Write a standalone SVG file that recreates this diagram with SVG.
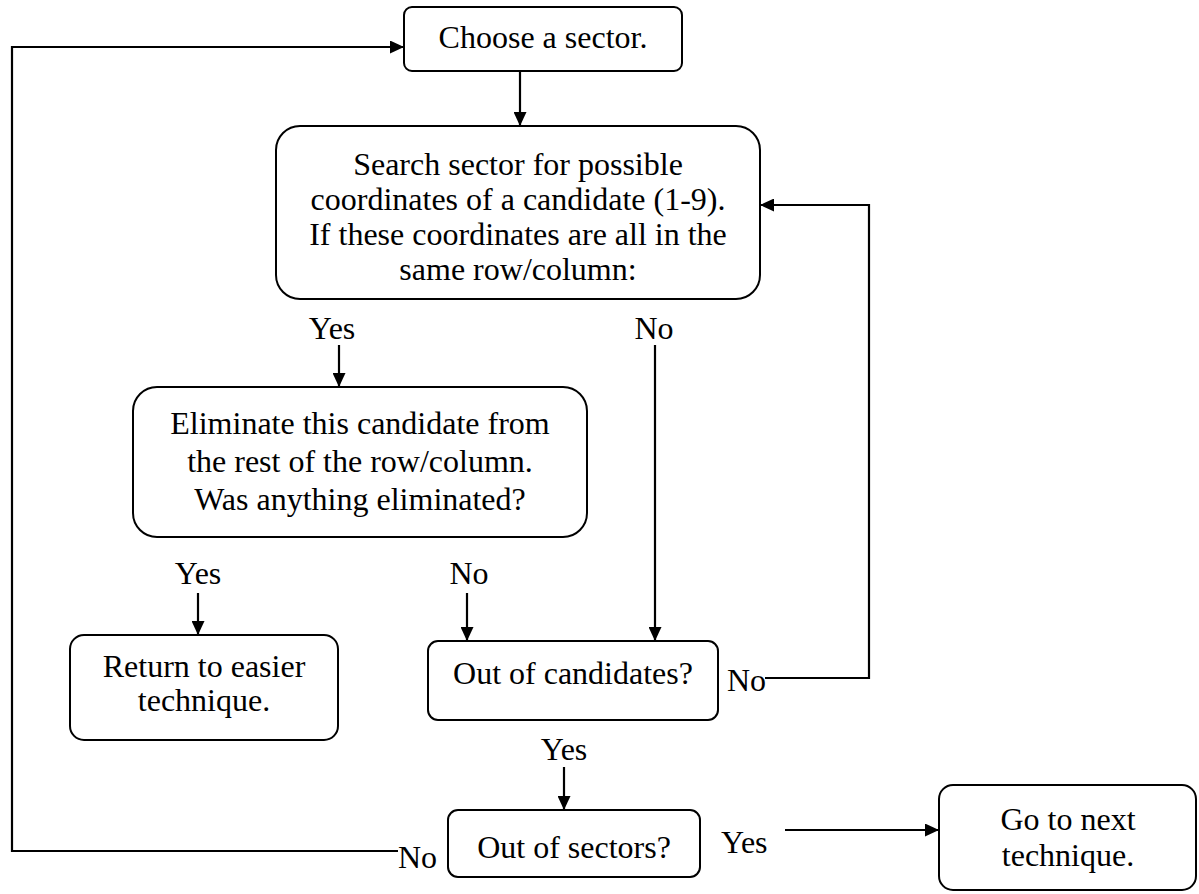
<svg xmlns="http://www.w3.org/2000/svg" width="1199" height="894" viewBox="0 0 1199 894">
  <defs>
    <marker id="arrow" markerWidth="15" markerHeight="13" refX="14" refY="6.5" orient="auto" markerUnits="userSpaceOnUse">
      <path d="M0,0 L14,6.5 L0,13 z" fill="#000"/>
    </marker>
    <style>
      .box { fill: #fff; stroke: #000; stroke-width: 2; }
      .lbl { font-family: "Liberation Serif", "Times New Roman", serif; font-size: 32px; fill: #000; }
      .mid { text-anchor: middle; }
      .conn { fill: none; stroke: #000; stroke-width: 2.2; }
    </style>
  </defs>
  <rect width="1199" height="894" fill="#fff"/>

  <!-- connectors -->
  <g id="connectors">
    <path class="conn" d="M398,851 H12 V47 H404" marker-end="url(#arrow)"/>
    <path class="conn" d="M520,71 V126" marker-end="url(#arrow)"/>
    <path class="conn" d="M339,345 V387" marker-end="url(#arrow)"/>
    <path class="conn" d="M655,345 V641" marker-end="url(#arrow)"/>
    <path class="conn" d="M198,593 V635" marker-end="url(#arrow)"/>
    <path class="conn" d="M467,593 V641" marker-end="url(#arrow)"/>
    <path class="conn" d="M765,678 H869 V205 H760" marker-end="url(#arrow)"/>
    <path class="conn" d="M564,767 V810" marker-end="url(#arrow)"/>
    <path class="conn" d="M785,830 H939" marker-end="url(#arrow)"/>
  </g>

  <!-- branch labels -->
  <g id="labels">
    <text class="lbl mid" x="332" y="339">Yes</text>
    <text class="lbl mid" x="654" y="339">No</text>
    <text class="lbl mid" x="198" y="584">Yes</text>
    <text class="lbl mid" x="469" y="584">No</text>
    <text class="lbl" x="727" y="691">No</text>
    <text class="lbl mid" x="564" y="760">Yes</text>
    <text class="lbl" x="398" y="868">No</text>
    <text class="lbl" x="721" y="853">Yes</text>
  </g>

  <g id="choose">
    <rect class="box" x="404" y="7" width="278" height="64" rx="8"/>
    <text class="lbl mid" x="543" y="48">Choose a sector.</text>
  </g>

  <g id="search">
    <rect class="box" x="276" y="126" width="484" height="173" rx="24"/>
    <text class="lbl mid" x="518" y="175">Search sector for possible</text>
    <text class="lbl mid" x="518" y="210">coordinates of a candidate (1-9).</text>
    <text class="lbl mid" x="518" y="245">If these coordinates are all in the</text>
    <text class="lbl mid" x="518" y="280">same row/column:</text>
  </g>

  <g id="eliminate">
    <rect class="box" x="133" y="387" width="454" height="150" rx="24"/>
    <text class="lbl mid" x="360" y="434">Eliminate this candidate from</text>
    <text class="lbl mid" x="360" y="472">the rest of the row/column.</text>
    <text class="lbl mid" x="360" y="510">Was anything eliminated?</text>
  </g>

  <g id="return">
    <rect class="box" x="70" y="635" width="268" height="105" rx="14"/>
    <text class="lbl mid" x="204" y="677">Return to easier</text>
    <text class="lbl mid" x="204" y="711">technique.</text>
  </g>

  <g id="out-of-candidates">
    <rect class="box" x="428" y="641" width="290" height="79" rx="10"/>
    <text class="lbl mid" x="573" y="684">Out of candidates?</text>
  </g>

  <g id="out-of-sectors">
    <rect class="box" x="448" y="810" width="252" height="67" rx="10"/>
    <text class="lbl mid" x="574" y="858">Out of sectors?</text>
  </g>

  <g id="next-technique">
    <rect class="box" x="939" y="785" width="257" height="105" rx="14"/>
    <text class="lbl mid" x="1068" y="830">Go to next</text>
    <text class="lbl mid" x="1068" y="866">technique.</text>
  </g>
</svg>
